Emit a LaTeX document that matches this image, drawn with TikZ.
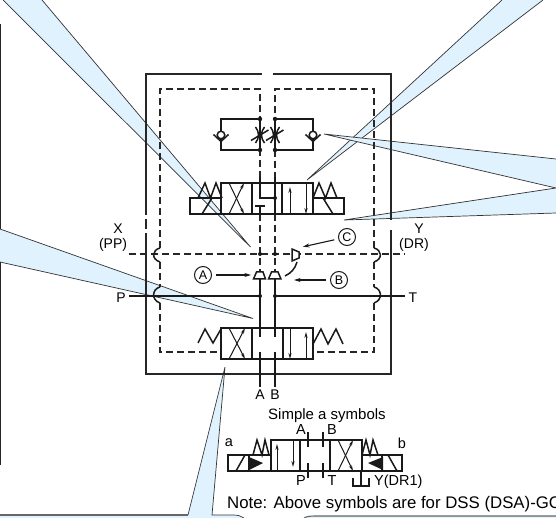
\documentclass[tikz,border=0pt]{standalone}
\usepackage{fontspec}
\setmainfont{Liberation Sans}
\usetikzlibrary{arrows.meta, positioning, calc}

\begin{document}
\begin{tikzpicture}[x=1pt, y=-1pt, >=Stealth, line join=miter]
	
	%======================
	% PARAMETERS (edit here)
	%======================
	\def\xa{260}         % left pilot line
	\def\xb{275}         % right pilot line
	\def\yx{254}         % X-Y pilot line
	\def\yp{296}         % P-T main line
	
	% Styles
	\tikzset{
		wedge/.style={draw=black!80, line width=0.7pt},
		frameline/.style={line width=1.8pt, draw=black!85},
		dashline/.style={line width=1.4pt, draw=black!85, dash pattern=on 7pt off 4pt},
		symb/.style={line width=1.5pt, draw=black!90},
		flow/.style={line width=1pt, draw=black!90, -{Stealth[length=6pt,width=3.2pt]}},
		pointer/.style={line width=1.1pt, draw=black!90, -{Stealth[length=6.5pt,width=4pt]}, shorten <=4pt, shorten >=1pt},
		junction/.style={circle, fill=black!90, inner sep=0pt, minimum size=4pt},
		tag/.style={circle, draw=black!90, line width=1pt, minimum size=17pt, inner sep=0pt, font=\fontsize{12.5}{13}\selectfont},
		lbl/.style={inner sep=0pt, font=\fontsize{14}{15}\selectfont},
		lblsmall/.style={inner sep=0pt, font=\fontsize{14.5}{16}\selectfont}
	}
	\definecolor{calloutblue}{HTML}{DFF2FD}
	
	\useasboundingbox (0,0) rectangle (556,518);
	\clip (0,0) rectangle (556,518);
	
	%======================
	% CALLOUT WEDGES
	%======================
	\path[fill=calloutblue] (3,0) -- (250.5,247) -- (42,0) -- cycle;
	\draw[wedge] (3,0) -- (250.5,247) -- (42,0);
	\path[fill=calloutblue] (0,229) -- (253,318.5) -- (0,262) -- cycle;
	\draw[wedge] (0,229) -- (253,318.5) -- (0,262);
	\path[fill=calloutblue] (502,0) -- (307,180) -- (543,0) -- cycle;
	\draw[wedge] (502,0) -- (307,180) -- (543,0);
	\path[fill=calloutblue] (556,159) -- (324,134) -- (556,188) -- (344,220) -- (556,213) -- cycle;
	\draw[wedge] (556,159) -- (324,134) -- (556,188) -- (344,220) -- (556,213);
	\path[fill=calloutblue] (0,515) -- (188,515) -- (225,367) -- (212,515) -- (233,515) .. controls (238,515) and (241,516) .. (244,518) -- (0,518) -- cycle;
	\draw[wedge] (188,515) -- (225,367) -- (212,515) -- (233,515) .. controls (238,515) and (241,516) .. (244,518);
	\draw[line width=1.3pt, draw=black!60] (0,515) -- (188,515);
	\path[fill=calloutblue] (304,518) .. controls (307,516) and (312,516) .. (318,516) -- (556,516) -- (556,518) -- cycle;
	\draw[line width=1.1pt, draw=black!60] (304,518) .. controls (307,516) and (312,516) .. (318,516) -- (556,516);
	
	% bubble edge on the far left
	\draw[frameline] (0.5,24) -- (0.5,229);
	\draw[frameline] (0.5,262) -- (0.5,465);
	
	%======================
	% OUTER FRAME
	%======================
	\draw[frameline] (262,74) -- (146,74) -- (146,215);
	\draw[frameline] (146,219) -- (146,229);
	\draw[frameline] (146,233) -- (146,374) -- (391,374) -- (391,230);
	\draw[frameline] (391,220) -- (391,74) -- (273,74);
	
	%======================
	% DASHED PILOT ENVELOPE
	%======================
	\draw[dashline] (160,248) -- (160,89) -- (\xa,89) -- (\xa,177);
	\draw[dashline] (374,248) -- (374,89) -- (\xb,89) -- (\xb,177);
	\draw[dashline] (\xa,214) -- (\xa,272);
	\draw[dashline] (\xb,214) -- (\xb,272);
	\draw[dashline] (160,262) -- (160,287);
	\draw[dashline] (374,262) -- (374,287);
	\draw[dashline] (160,303) -- (160,352) -- (221,352);
	\draw[dashline] (374,303) -- (374,352) -- (313,352);
	\draw[dashline] (129,\yx) -- (405,\yx);
	
	% hops over the X-Y and P-T lines
	\draw[symb] (160,248) .. controls (152,250) and (151,259) .. (160,262);
	\draw[symb] (160,287) .. controls (152,289) and (151,300) .. (160,303);
	\draw[symb] (374,248) .. controls (382,250) and (383,259) .. (374,262);
	\draw[symb] (374,287) .. controls (382,289) and (383,300) .. (374,303);
	
	%======================
	% MAIN LINES
	%======================
	\draw[symb] (129,\yp) -- (\xa,\yp);
	\draw[symb] (\xb,\yp) -- (405,\yp);
	\draw[symb] (\xa,279) -- (\xa,337);
	\draw[symb] (\xb,279) -- (\xb,337);
	\draw[symb] (\xa,352) -- (\xa,387);
	\draw[symb] (\xb,352) -- (\xb,387);
	
	\node[junction] (dotXa) at (\xa,\yx) {};
	\node[junction] (dotXb) at (\xb,\yx) {};
	\node[junction] (dotPa) at (\xa,\yp) {};
	\node[junction] (dotPb) at (\xb,\yp) {};
	
	%======================
	% THROTTLE AND CHECK BLOCK
	%======================
	\draw[symb] (\xa,119) -- (221,119) -- (221,150) -- (\xa,150);
	\draw[symb] (\xb,119) -- (313,119) -- (313,150) -- (\xb,150);
	\foreach \xx in {\xa,\xb}{
		\draw[symb] (\xx,119) -- (\xx,150);
		\fill[black!90] (\xx,119) circle (2.2pt) (\xx,150) circle (2.2pt);
		\draw[symb] (\xx-4.5,127) .. controls (\xx-0.5,132) and (\xx-0.5,138) .. (\xx-4.5,143);
		\draw[symb] (\xx+4.5,127) .. controls (\xx+0.5,132) and (\xx+0.5,138) .. (\xx+4.5,143);
		\draw[symb] (\xx-9,140.5) -- (\xx+8.5,130);
	}
	% check valves
	\foreach \xx in {221,313}{
		\draw[symb, fill=white] (\xx,135) circle (3.8pt);
		\draw[symb] (\xx-7.5,134.5) -- (\xx,141.5) -- (\xx+7.5,134.5);
	}
	
	%======================
	% TOP (PILOT) VALVE
	%======================
	\draw[symb] (221,183) rectangle (313,214);
	\draw[symb] (221,198) -- (190,198) -- (190,214) -- (221,214);
	\draw[symb] (313,198) -- (344,198) -- (344,214) -- (313,214);
	\draw[symb] (252,183) -- (252,214);
	\draw[symb] (282,183) -- (282,214);
	% springs and solenoid slashes
	\draw[symb] (198,198) -- (205,183) -- (210.5,198) -- (216,183) -- (222,198);
	\draw[symb] (313,198) -- (319,183) -- (325.5,198) -- (331,183) -- (337,198);
	\draw[symb] (202,214) -- (212,198);
	\draw[symb] (323,198) -- (333,214);
	% crossed position
	\draw[flow] (229,183) -- (244,214);
	\draw[flow] (229,214) -- (244,183);
	% centre position
	\draw[symb] (\xa,177) -- (\xa,198) -- (\xb,198);
	\draw[symb] (\xb,177) -- (\xb,214);
	\node[junction] (dotTop) at (\xb,198) {};
	\draw[symb] (255,206) -- (265,206);
	\draw[symb] (\xa,206) -- (\xa,214);
	% straight position
	\draw[flow] (290,214) -- (290,187);
	\draw[flow] (306,183) -- (306,214);
	
	%======================
	% MAIN VALVE
	%======================
	\draw[symb] (221,328) rectangle (313,359);
	\draw[symb] (252,328) -- (252,359);
	\draw[symb] (283,328) -- (283,359);
	\draw[symb] (198,343) -- (205,329) -- (213,343) -- (221,329);
	\draw[symb] (313,344) -- (321,329) -- (328,344) -- (336,329) -- (343,344);
	\draw[flow] (229,328) -- (245,359);
	\draw[flow] (229,359) -- (245,328);
	\draw[flow] (290,328) -- (290,359);
	\draw[flow] (306,359) -- (306,332);
	
	%======================
	% PILOT CHOKES A, B, C
	%======================
	\draw[symb] (256.5,272) -- (263,272) -- (265.5,279) -- (253.5,279) -- cycle;
	\draw[symb] (271.5,272) -- (278,272) -- (281,279) -- (268.5,279) -- cycle;
	\draw[symb, fill=white] (292,249) -- (299,252) -- (299,258) -- (292,261) -- cycle;
	\draw[symb] (297,262) .. controls (295,269) and (291,273) .. (285,276);
	
	\node[tag] (tagA) at (203,275) {A};
	\node[tag] (tagB) at (339,280) {B};
	\node[tag] (tagC) at (347,237) {C};
	\coordinate (chokeA) at (252,275);
	\coordinate (chokeB) at (293,280);
	\coordinate (chokeC) at (302,247);
	\draw[pointer] (tagA) -- (chokeA);
	\draw[pointer] (tagB) -- (chokeB);
	\draw[pointer] (tagC) -- (chokeC);
	
	%======================
	% PORT LABELS
	%======================
	\node[lbl] (lblX) at (118,229) {X};
	\node[lbl] (lblPP) at (113,245) {(PP)};
	\node[lbl] (lblP) at (121,298) {P};
	\node[lbl] (lblY) at (419,229) {Y};
	\node[lbl] (lblDR) at (414,245) {(DR)};
	\node[lbl] (lblT) at (413,298) {T};
	\node[lbl] (lblA) at (260,395) {A};
	\node[lbl] (lblB) at (275,395) {B};
	
	%======================
	% SIMPLE SYMBOL
	%======================
	\node[lblsmall, font=\fontsize{15}{16}\selectfont] (lblSimple) at (327,416) {Simple a symbols};
	\draw[symb] (271,440) rectangle (362,471);
	\draw[symb] (271,455) -- (228,455) -- (228,471) -- (271,471);
	\draw[symb] (362,455) -- (402,455) -- (402,471) -- (362,471);
	\draw[symb] (249,455) -- (249,471);
	\draw[symb] (382,455) -- (382,471);
	\draw[symb] (300,440) -- (300,471);
	\draw[symb] (330,440) -- (330,471);
	% coils
	\draw[symb] (236,471) -- (245,455);
	\draw[symb] (388,455) -- (397,471);
	\fill[black!90] (249,457) -- (263,463) -- (249,470) -- cycle;
	\fill[black!90] (383,457) -- (368,463) -- (383,470) -- cycle;
	% springs
	\draw[symb] (253,455) -- (257,440) -- (262,455) -- (265,440) -- (269,455);
	\draw[symb] (362,455) -- (366,440) -- (370,455) -- (373,440) -- (378,455);
	% envelopes
	\draw[flow] (277,471) -- (277,444);
	\draw[flow] (293,440) -- (293,467);
	\draw[flow] (338,471) -- (353,440);
	\draw[flow] (338,440) -- (353,471);
	% ports
	\draw[symb] (308,432) -- (308,447);
	\draw[symb] (323,432) -- (323,447);
	\draw[symb] (308,463) -- (308,478);
	\draw[symb] (323,463) -- (323,478);
	% drain
	\draw[symb] (361,471) -- (361,486);
	\draw[symb] (353,478) -- (353,486) -- (369,486) -- (369,478);
	
	\node[lblsmall] (lblSa) at (229,443) {a};
	\node[lblsmall] (lblSb) at (402,443) {b};
	\node[lblsmall] (lblSA) at (301,430) {A};
	\node[lblsmall] (lblSB) at (332,430) {B};
	\node[lblsmall] (lblSP) at (301,481) {P};
	\node[lblsmall] (lblST) at (332,481) {T};
	\node[lblsmall, anchor=west] (lblDrain) at (374,482) {Y(DR1)};
	
	\node[inner sep=0pt, anchor=base west, font=\fontsize{16.8}{18}\selectfont] (lblNote) at (227,508) {Note: Above symbols are for DSS (DSA)-GC};
\end{tikzpicture}
\end{document}
